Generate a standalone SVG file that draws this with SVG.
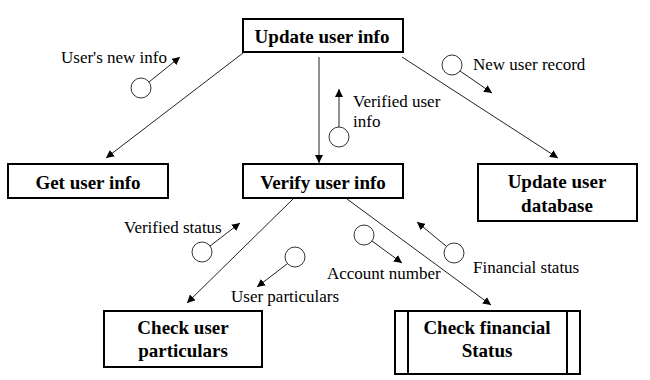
<svg xmlns="http://www.w3.org/2000/svg" width="650" height="380" viewBox="0 0 650 380" font-family="Liberation Serif">
<defs>
<marker id="ah" viewBox="0 0 10 10" refX="10" refY="5" markerWidth="8" markerHeight="8" markerUnits="userSpaceOnUse" orient="auto">
<path d="M0,0 L10,5 L0,10 Z" fill="#000"/>
</marker>
</defs>
<rect width="650" height="380" fill="#fff"/>
<g id="connectors" stroke="#222" stroke-width="1" fill="none" marker-end="url(#ah)">
<line x1="243" y1="53" x2="106" y2="158"/>
<line x1="319" y1="57" x2="319" y2="163"/>
<line x1="402" y1="57" x2="558" y2="158"/>
<line x1="293" y1="199" x2="187" y2="303"/>
<line x1="347" y1="199" x2="491" y2="305"/>
</g>
<g id="flows" font-family="Liberation Serif" font-size="17" fill="#000">
<g id="flow-users-new-info">
<circle cx="141" cy="88" r="10" fill="#fff" stroke="#333"/>
<line x1="149" y1="82" x2="180" y2="57" stroke="#222" marker-end="url(#ah)"/>
<text font-family="Liberation Serif" x="61" y="63">User's new info</text>
</g>
<g id="flow-verified-user-info">
<circle cx="339" cy="137" r="10" fill="#fff" stroke="#333"/>
<line x1="339" y1="127" x2="339" y2="89" stroke="#222" marker-end="url(#ah)"/>
<text font-family="Liberation Serif" x="353" y="107">Verified user</text>
<text font-family="Liberation Serif" x="353" y="127">info</text>
</g>
<g id="flow-new-user-record">
<circle cx="452" cy="65" r="10" fill="#fff" stroke="#333"/>
<line x1="460" y1="71" x2="492" y2="93" stroke="#222" marker-end="url(#ah)"/>
<text font-family="Liberation Serif" x="473" y="70">New user record</text>
</g>
<g id="flow-verified-status">
<circle cx="202" cy="252" r="10" fill="#fff" stroke="#333"/>
<line x1="210" y1="246" x2="240" y2="223" stroke="#222" marker-end="url(#ah)"/>
<text font-family="Liberation Serif" x="124" y="233">Verified status</text>
</g>
<g id="flow-user-particulars">
<circle cx="295" cy="257" r="10" fill="#fff" stroke="#333"/>
<line x1="287" y1="264" x2="257" y2="287" stroke="#222" marker-end="url(#ah)"/>
<text font-family="Liberation Serif" x="231" y="302">User particulars</text>
</g>
<g id="flow-account-number">
<circle cx="364" cy="235" r="10" fill="#fff" stroke="#333"/>
<line x1="372" y1="241" x2="402" y2="263" stroke="#222" marker-end="url(#ah)"/>
<text font-family="Liberation Serif" x="327" y="279">Account number</text>
</g>
<g id="flow-financial-status">
<circle cx="454" cy="253" r="10" fill="#fff" stroke="#333"/>
<line x1="446" y1="246" x2="417" y2="222" stroke="#222" marker-end="url(#ah)"/>
<text font-family="Liberation Serif" x="473" y="273">Financial status</text>
</g>
</g>
<g id="nodes" font-family="Liberation Serif" font-size="19" font-weight="bold" text-anchor="middle">
<g id="node-update-user-info">
<rect x="243" y="19" width="160" height="33" fill="#fff" stroke="#000" stroke-width="2"/>
<text font-family="Liberation Serif" x="322" y="43">Update user info</text>
</g>
<g id="node-get-user-info">
<rect x="8" y="164" width="160" height="34" fill="#fff" stroke="#000" stroke-width="2"/>
<text font-family="Liberation Serif" x="88" y="189">Get user info</text>
</g>
<g id="node-verify-user-info">
<rect x="243" y="164" width="160" height="34" fill="#fff" stroke="#000" stroke-width="2"/>
<text font-family="Liberation Serif" x="323" y="189">Verify user info</text>
</g>
<g id="node-update-user-database">
<rect x="478" y="164" width="159" height="57" fill="#fff" stroke="#000" stroke-width="2"/>
<text font-family="Liberation Serif" x="557" y="188">Update user</text>
<text font-family="Liberation Serif" x="557" y="212">database</text>
</g>
<g id="node-check-user-particulars">
<rect x="104" y="311" width="158" height="56" fill="#fff" stroke="#000" stroke-width="2"/>
<text font-family="Liberation Serif" x="183" y="334">Check user</text>
<text font-family="Liberation Serif" x="183" y="357">particulars</text>
</g>
<g id="node-check-financial-status">
<rect x="395" y="311" width="185" height="63" fill="#fff" stroke="#000" stroke-width="2"/>
<line x1="408" y1="311" x2="408" y2="374" stroke="#000" stroke-width="2"/>
<line x1="567" y1="311" x2="567" y2="374" stroke="#000" stroke-width="2"/>
<text font-family="Liberation Serif" x="487" y="334">Check financial</text>
<text font-family="Liberation Serif" x="487" y="357">Status</text>
</g>
</g>
</svg>
